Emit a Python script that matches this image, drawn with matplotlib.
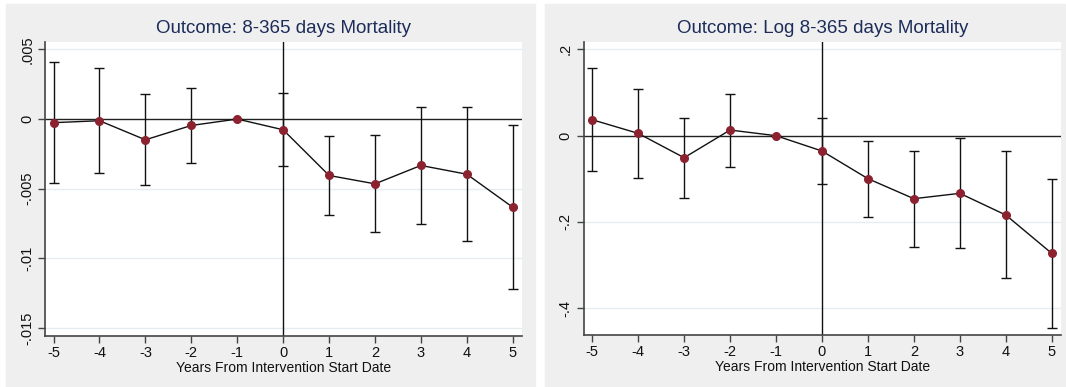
import matplotlib.pyplot as plt
from matplotlib.patches import Rectangle

years = [-5, -4, -3, -2, -1, 0, 1, 2, 3, 4, 5]

# 8-365 day mortality, level
level_coef = [-0.00026, -0.00012, -0.00149, -0.00046, 0.0, -0.00077,
              -0.00405, -0.00465, -0.00333, -0.00396, -0.00633]
level_hi = [0.0041, 0.00367, 0.00177, 0.0022, 0.0, 0.0019,
            -0.00122, -0.00118, 0.00084, 0.00084, -0.00041]
level_lo = [-0.0046, -0.00388, -0.00472, -0.00314, 0.0, -0.0034,
            -0.00688, -0.00808, -0.00753, -0.00875, -0.01218]

# 8-365 day mortality, log
log_coef = [0.037, 0.0054, -0.051, 0.0131, 0.0, -0.0355,
            -0.0996, -0.146, -0.1336, -0.1838, -0.2726]
log_hi = [0.156, 0.109, 0.0417, 0.0973, 0.0, 0.0417,
          -0.0131, -0.0347, -0.0054, -0.0363, -0.0996]
log_lo = [-0.0819, -0.098, -0.1444, -0.0718, 0.0, -0.1127,
          -0.1876, -0.2571, -0.261, -0.3305, -0.4456]

level_ticks = [0.005, 0.0, -0.005, -0.01, -0.015]
level_ticklabels = [".005", "0", "-.005", "-.01", "-.015"]
log_ticks = [0.2, 0.0, -0.2, -0.4]
log_ticklabels = [".2", "0", "-.2", "-.4"]

REGION = "#efefef"
GRID = "#e4eef0"
TITLE = "#1c2d5a"
MARKER = "#8c2230"
AXIS = "#444444"

plt.rcParams["font.family"] = ["Liberation Sans", "DejaVu Sans"]


def draw_panel(ax, coef, lo, hi, ticks, ticklabels, ylim, title):
    ax.set_facecolor("white")
    for y in ticks:
        if y != 0:
            ax.axhline(y, color=GRID, lw=1.0, zorder=0)
    ax.axhline(0, color="#222222", lw=1.0, zorder=1)
    ax.axvline(0, color="#111111", lw=1.0, zorder=1)

    yerr = [[c - l for c, l in zip(coef, lo)], [h - c for c, h in zip(coef, hi)]]
    ax.errorbar(years, coef, yerr=yerr, fmt="none", ecolor="#111111",
                elinewidth=1.0, capsize=3.5, capthick=1.0, zorder=2)
    ax.plot(years, coef, color="#111111", lw=1.0, zorder=3)
    ax.plot(years, coef, "o", color=MARKER, ms=5.5, mec=MARKER, zorder=4)

    ax.set_xlim(-5.18, 5.195)
    ax.set_ylim(*ylim)
    ax.set_xticks(years)
    ax.set_xticklabels([str(y) for y in years])
    ax.set_yticks(ticks)
    ax.set_yticklabels(ticklabels, rotation=90, va="center")
    ax.tick_params(axis="both", colors=AXIS, labelcolor="#111111",
                   length=5, width=1.0, labelsize=10.5)
    ax.tick_params(axis="y", pad=3)
    ax.tick_params(axis="x", pad=2)
    for side in ("top", "right"):
        ax.spines[side].set_visible(False)
    for side in ("left", "bottom"):
        ax.spines[side].set_color(AXIS)
        ax.spines[side].set_linewidth(1.2)
    ax.set_xlabel("Years From Intervention Start Date", fontsize=10,
                  color="#111111", labelpad=1)
    ax.set_title(title, fontsize=13.5, color=TITLE, pad=6)


fig = plt.figure(figsize=(10.66, 3.87), dpi=100)
fig.patch.set_facecolor("white")
fig.patches.append(Rectangle((6 / 1066, 0), 529 / 1066, 383 / 387,
                             transform=fig.transFigure, color=REGION, zorder=-10))
fig.patches.append(Rectangle((545 / 1066, 0), 520 / 1066, 383 / 387,
                             transform=fig.transFigure, color=REGION, zorder=-10))

ax1 = fig.add_axes([0.0425, 0.1318, 0.4469, 0.7604])
draw_panel(ax1, level_coef, level_lo, level_hi, level_ticks, level_ticklabels,
           (-0.01557, 0.00555), "Outcome: 8-365 days Mortality")

ax2 = fig.add_axes([0.5478, 0.1344, 0.4472, 0.7578])
draw_panel(ax2, log_coef, log_lo, log_hi, log_ticks, log_ticklabels,
           (-0.4619, 0.2178), "Outcome: Log 8-365 days Mortality")

fig.savefig("out.png", dpi=100, facecolor=fig.get_facecolor())
